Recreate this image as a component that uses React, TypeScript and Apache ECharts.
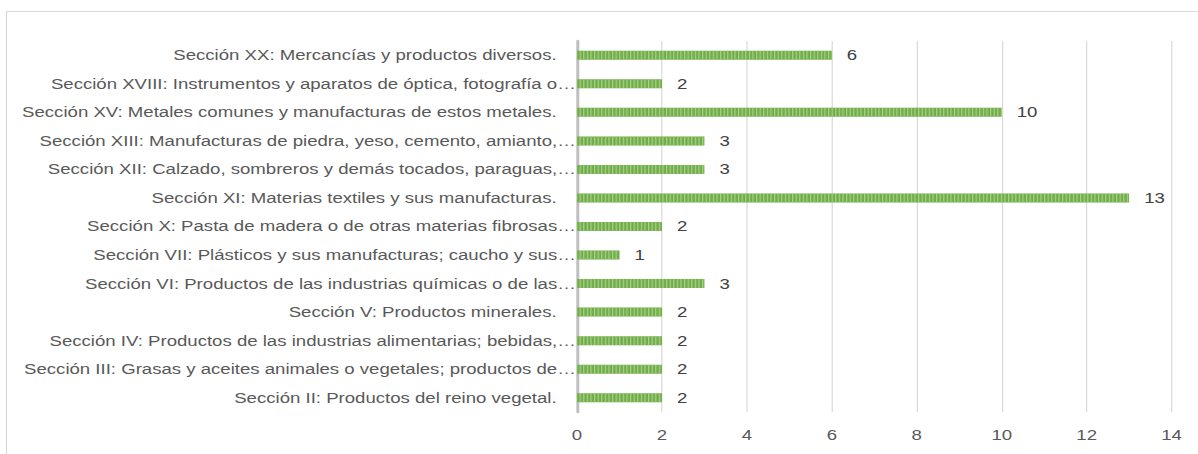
import React, { useEffect, useRef } from "react";
import * as echarts from "echarts";

const categories = [
  "Sección II: Productos del reino vegetal.",
  "Sección III: Grasas y aceites animales o vegetales; productos de…",
  "Sección IV: Productos de las industrias alimentarias; bebidas,…",
  "Sección V: Productos minerales.",
  "Sección VI: Productos de las industrias químicas o de las…",
  "Sección VII: Plásticos y sus manufacturas; caucho y sus…",
  "Sección X: Pasta de madera o de otras materias fibrosas…",
  "Sección XI: Materias textiles y sus manufacturas.",
  "Sección XII: Calzado, sombreros y demás tocados, paraguas,…",
  "Sección XIII: Manufacturas de piedra, yeso, cemento, amianto,…",
  "Sección XV: Metales comunes y manufacturas de estos metales.",
  "Sección XVIII: Instrumentos y aparatos de óptica, fotografía o…",
  "Sección XX: Mercancías y productos diversos.",
];
const values = [2, 2, 2, 2, 3, 1, 2, 13, 3, 3, 10, 2, 6];
const xTicks = { min: 0, max: 14, interval: 2 };

const SX = 1.2;
const W = 1198 / SX;

export default function App() {
  const ref = useRef<HTMLDivElement>(null);
  useEffect(() => {
    if (!ref.current) return;
    const chart = echarts.init(ref.current, undefined, { renderer: "svg" });
    chart.setOption({
      animation: false,
      backgroundColor: "#ffffff",
      textStyle: { fontFamily: "Liberation Sans, Arial, sans-serif" },
      graphic: [
        {
          type: "rect",
          shape: { x: 6.5 / SX, y: 11.5, width: 1200, height: 460 },
          style: { fill: "none", stroke: "#d9d9d9", lineWidth: 1 },
          silent: true,
        },
      ],
      grid: { left: 577 / SX, right: 26 / SX, top: 41, bottom: 42, containLabel: false },
      xAxis: {
        type: "value",
        min: xTicks.min,
        max: xTicks.max,
        interval: xTicks.interval,
        axisLine: { show: false },
        axisTick: { show: false },
        axisLabel: { color: "#595959", fontSize: 15.5, margin: 15 },
        splitLine: { lineStyle: { color: "#d9d9d9", width: 1 } },
      },
      yAxis: {
        type: "category",
        data: categories,
        axisLine: { show: true, lineStyle: { color: "#bfbfbf", width: 2.5 } },
        axisTick: { show: false },
        axisLabel: {
          color: "#595959",
          fontSize: 15.5,
          margin: 1,
          formatter: (v: string) => (v.endsWith("…") ? `{t|${v}}` : `{f|${v}}`),
          rich: {
            t: { color: "#595959", fontSize: 15.5, padding: [0, 0, 0, 0] },
            f: { color: "#595959", fontSize: 15.5, padding: [0, 16, 0, 0] },
          },
        },
      },
      series: [
        {
          type: "bar",
          data: values,
          barWidth: 9,
          itemStyle: {
            color: "#70ad47",
            decal: {
              symbol: "rect",
              symbolSize: 1,
              color: "#a9d08e",
              dashArrayX: [1, 1.6],
              dashArrayY: [10, 0],
              rotation: 0,
            },
          },
          label: {
            show: true,
            position: "right",
            distance: 12.5,
            color: "#404040",
            fontSize: 15.5,
          },
        },
      ],
    });
    return () => chart.dispose();
  }, []);
  return (
    <div
      style={{
        position: "fixed",
        left: 0,
        top: 0,
        width: 1198,
        height: 454,
        overflow: "hidden",
      }}
    >
      <div
        ref={ref}
        style={{
          width: W,
          height: 454,
          transform: `scaleX(${SX})`,
          transformOrigin: "0 0",
        }}
      />
    </div>
  );
}
